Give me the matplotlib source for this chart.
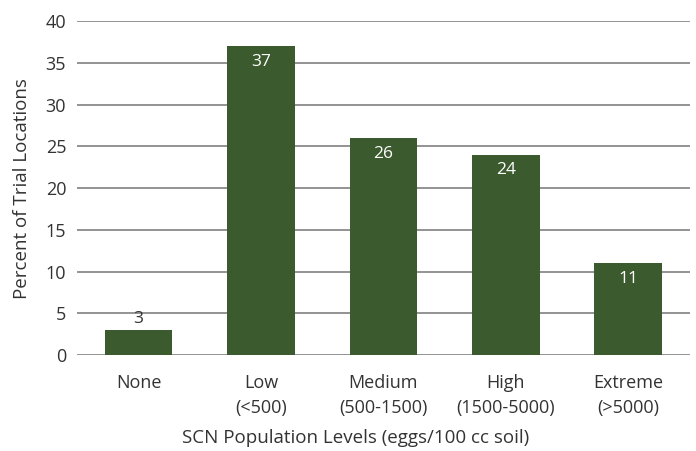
import matplotlib.pyplot as plt

# SCN population level categories and share of trial locations (%)
levels = ["None", "Low\n(<500)", "Medium\n(500-1500)", "High\n(1500-5000)", "Extreme\n(>5000)"]
percent = [3, 37, 26, 24, 11]
yticks = [0, 5, 10, 15, 20, 25, 30, 35, 40]

bar_color = "#3b5a2d"
text_color = "#333333"
plt.rcParams['font.family'] = ['Open Sans', 'DejaVu Sans']

fig = plt.figure(figsize=(6.96, 4.51), dpi=100)
ax = fig.add_axes([0.111, 0.213, 0.88, 0.74])

x = range(len(levels))
bars = ax.bar(x, percent, width=0.555, color=bar_color, zorder=3)

for xi, v in zip(x, percent):
    if v < 5:
        ax.text(xi, v + 0.4, str(v), ha='center', va='bottom', color=text_color, fontsize=12.5)
    else:
        ax.text(xi, v - 0.9, str(v), ha='center', va='top', color='white', fontsize=12.5)

ax.set_xlim(-0.5, 4.5)
ax.set_ylim(0, 40)
ax.set_yticks(yticks)
ax.set_xticks(list(x))
ax.set_xticklabels(levels, fontsize=13, color=text_color, linespacing=1.45)
ax.tick_params(axis='y', labelsize=13, colors=text_color, length=0, pad=8)
ax.tick_params(axis='x', length=0, pad=14)
ax.yaxis.grid(True, color='#8a8a8a', linewidth=1.3, zorder=0)
for s in ax.spines.values():
    s.set_visible(False)

ax.set_ylabel("Percent of Trial Locations", fontsize=13.5, color=text_color)
ax.yaxis.set_label_coords(-0.075, 0.5)
ax.set_xlabel("SCN Population Levels (eggs/100 cc soil)", fontsize=13.5, color=text_color)
ax.xaxis.set_label_coords(0.455, -0.222)

fig.savefig("out.png", dpi=100)
